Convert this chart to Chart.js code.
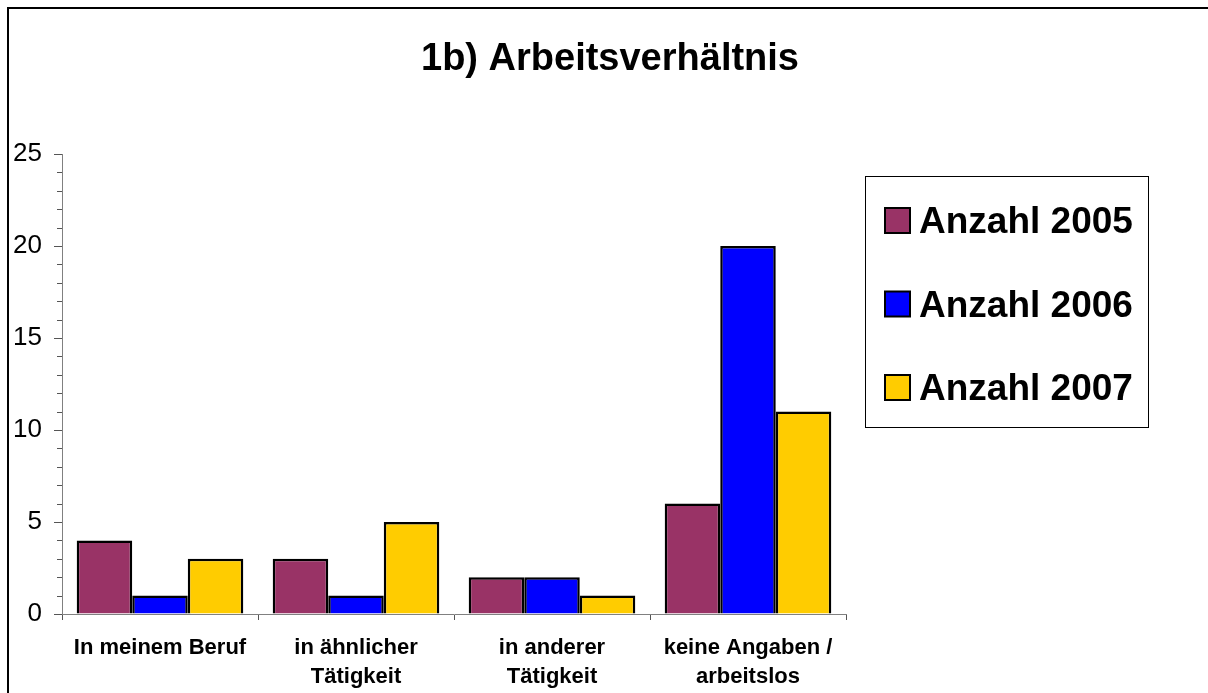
<!DOCTYPE html>
<html>
<head>
<meta charset="utf-8">
<script src="https://cdn.jsdelivr.net/npm/chart.js@4.4.1/dist/chart.umd.min.js"></script>
<style>
  html, body { margin: 0; padding: 0; background: #fff; }
  #wrap { width: 1208px; height: 693px; position: relative; }
</style>
</head>
<body>
<div id="wrap"><canvas id="myChart" width="1208" height="693"></canvas></div>
<script>
const chartTitle = "1b) Arbeitsverhältnis";
const categories = [
  ["In meinem Beruf"],
  ["in ähnlicher", "Tätigkeit"],
  ["in anderer", "Tätigkeit"],
  ["keine Angaben /", "arbeitslos"]
];
const seriesNames = ["Anzahl 2005", "Anzahl 2006", "Anzahl 2007"];
const values2005 = [4, 3, 2, 6];
const values2006 = [1, 1, 2, 20];
const values2007 = [3, 5, 1, 11];
const yTicks = [0, 5, 10, 15, 20, 25];

const colors = ["#993366", "#0000FF", "#FFCC00"];
const FONT = "'Liberation Sans', Arial, sans-serif";

// outer frame, title, legend box and minor ticks
const extras = {
  id: "extras",
  afterDraw(chart) {
    const c = chart.ctx;
    c.save();
    // frame
    c.strokeStyle = "#000";
    c.lineWidth = 2;
    c.strokeRect(8, 8, 1400, 1000);
    // title
    c.fillStyle = "#000";
    c.font = "bold 38px " + FONT;
    c.textAlign = "center";
    c.textBaseline = "alphabetic";
    c.fillText(chartTitle, 610, 70);
    // minor ticks on y
    const y = chart.scales.y;
    c.strokeStyle = "#555";
    c.lineWidth = 1;
    for (let v = y.min; v <= y.max; v++) {
      const py = Math.round(y.getPixelForValue(v)) + 0.5;
      c.beginPath();
      c.moveTo(y.right - 5, py);
      c.lineTo(y.right, py);
      c.stroke();
    }
    // legend
    c.strokeStyle = "#000";
    c.lineWidth = 1;
    c.strokeRect(865.5, 176.5, 283, 251);
    c.font = "bold 37px " + FONT;
    c.textAlign = "left";
    chart.data.datasets.forEach((ds, i) => {
      const cy = 220 + i * 83.5;
      c.fillStyle = ds.backgroundColor;
      c.fillRect(885, cy - 12, 25, 25);
      c.strokeStyle = "#000";
      c.lineWidth = 2;
      c.strokeRect(885, cy - 12, 25, 25);
      c.fillStyle = "#000";
      c.fillText(ds.label, 919, cy + 13);
    });
    c.restore();
  }
};

const ctx = document.getElementById("myChart");

new Chart(ctx, {
  type: "bar",
  data: {
    labels: categories,
    datasets: [
      { label: seriesNames[0], data: values2005, backgroundColor: colors[0] },
      { label: seriesNames[1], data: values2006, backgroundColor: colors[1] },
      { label: seriesNames[2], data: values2007, backgroundColor: colors[2] }
    ].map(d => Object.assign(d, { borderColor: "#000", borderWidth: 2.5 }))
  },
  options: {
    responsive: false,
    animation: false,
    categoryPercentage: 0.85,
    barPercentage: 1.0,
    layout: {
      padding: { top: 154, right: 362, left: 0, bottom: 0 }
    },
    plugins: {
      legend: false,
      title: false,
      tooltip: { enabled: false }
    },
    scales: {
      x: {
        grid: { drawOnChartArea: false, tickLength: 6, tickColor: "#555", offset: true },
        border: { color: "#808080", width: 1 },
        ticks: {
          color: "#000",
          padding: 14,
          maxRotation: 0,
          autoSkip: false,
          font: { family: FONT, size: 22, weight: "bold", lineHeight: 1.3 }
        },
        afterFit(s) { s.height = 79; }
      },
      y: {
        min: 0,
        max: 25,
        afterBuildTicks(s) { s.ticks = yTicks.map(v => ({ value: v })); },
        grid: { drawOnChartArea: false, tickLength: 8, tickColor: "#555" },
        border: { color: "#808080", width: 1 },
        ticks: {
          color: "#000",
          padding: 12,
          font: { family: FONT, size: 26 }
        },
        afterFit(s) { s.width = 62; }
      }
    }
  },
  plugins: [extras]
});
</script>
</body>
</html>
